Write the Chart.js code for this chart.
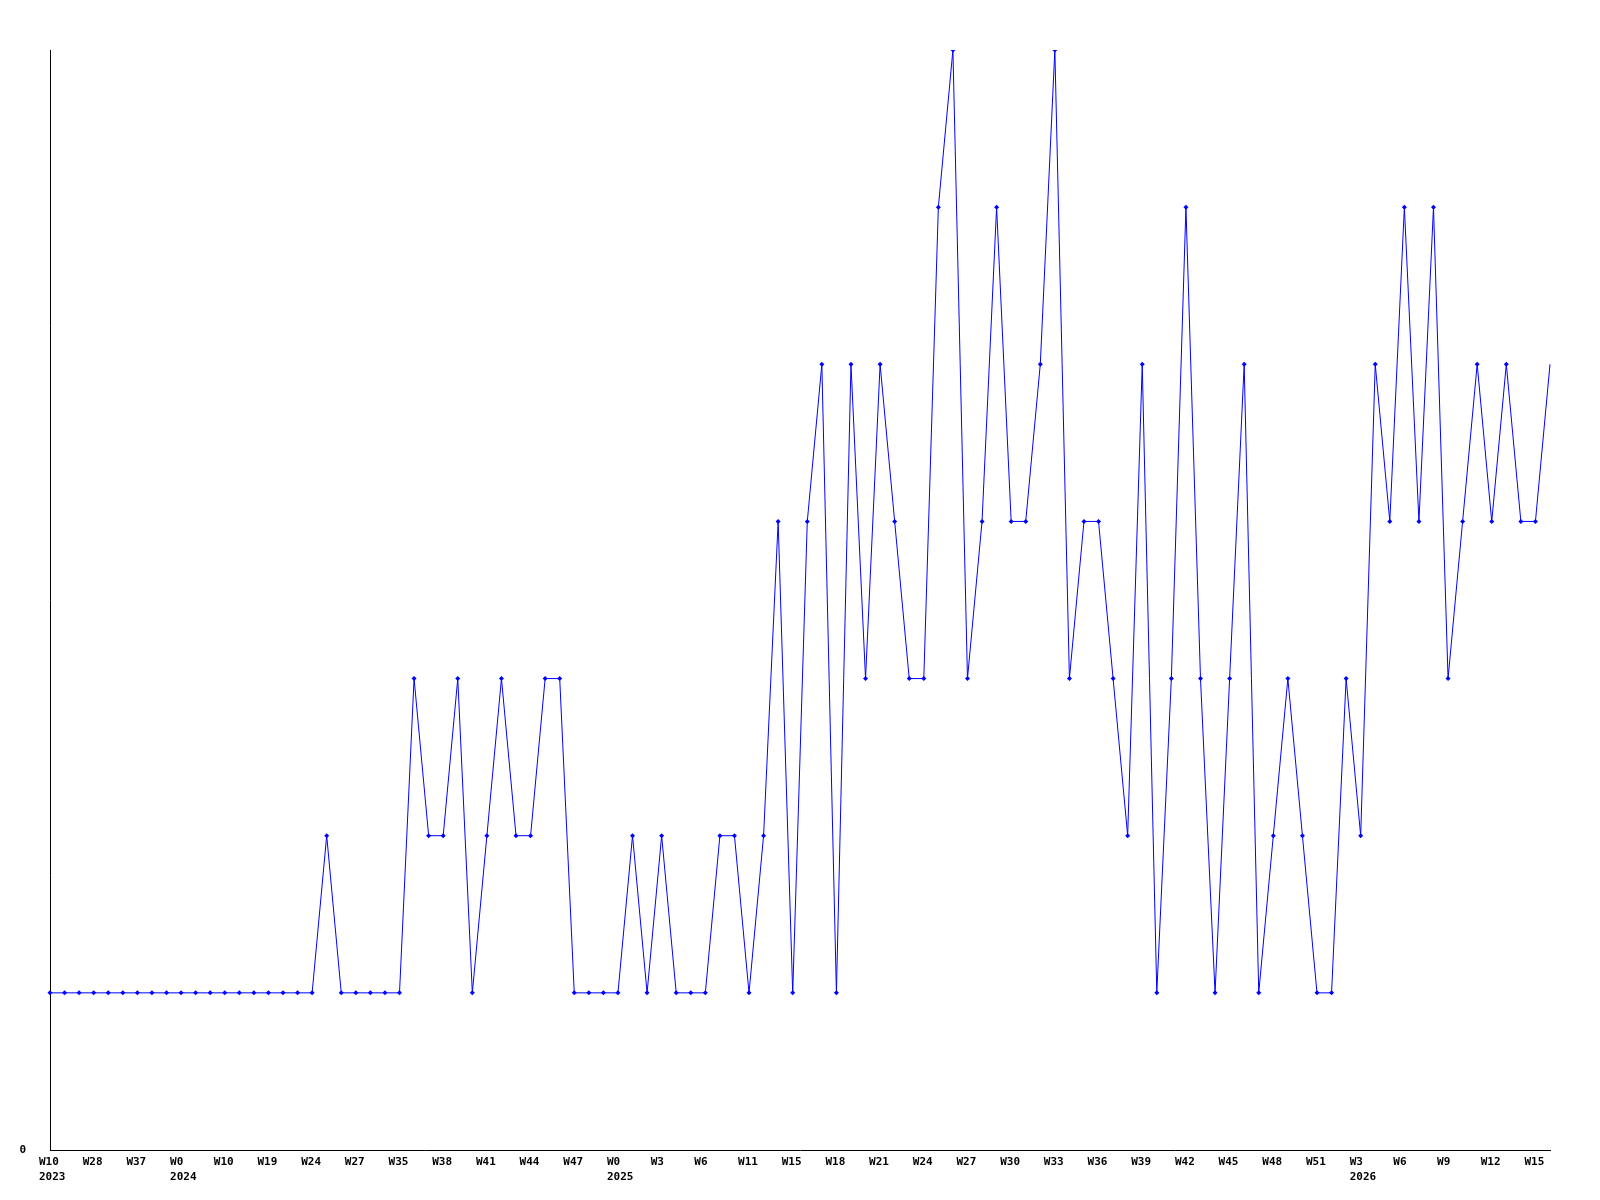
<!DOCTYPE html>
<html>
<head>
<meta charset="utf-8">
<script src="https://cdn.jsdelivr.net/npm/chart.js@4"></script>
<style>
  body { margin: 0; background: #fff; }
</style>
</head>
<body>
<canvas id="chart-weekly" width="1600" height="1200"></canvas>
<script>
// weekly values, one per week
var values = [
  1, 1, 1, 1, 1, 1, 1, 1, 1, 1, 1, 1, 1, 1, 1, 1, 1, 1, 1, 2,
  1, 1, 1, 1, 1, 3, 2, 2, 3, 1, 2, 3, 2, 2, 3, 3, 1, 1, 1, 1,
  2, 1, 2, 1, 1, 1, 2, 2, 1, 2, 4, 1, 4, 5, 1, 5, 3, 5, 4, 3,
  3, 6, 7, 3, 4, 6, 4, 4, 5, 7, 3, 4, 4, 3, 2, 5, 1, 3, 6, 3,
  1, 3, 5, 1, 2, 3, 2, 1, 1, 3, 2, 5, 4, 6, 4, 6, 3, 4, 5, 4,
  5, 4, 4, 5
];

// labels shown on every third week
var weekTicks = [
  'W10', 'W28', 'W37', 'W0', 'W10', 'W19', 'W24', 'W27', 'W35', 'W38',
  'W41', 'W44', 'W47', 'W0', 'W3', 'W6', 'W11', 'W15', 'W18', 'W21',
  'W24', 'W27', 'W30', 'W33', 'W36', 'W39', 'W42', 'W45', 'W48', 'W51',
  'W3', 'W6', 'W9', 'W12', 'W15'
];
var yearIndex = [0, 9, 39, 90];
var yearNames = ['2023', '2024', '2025', '2026'];

var categories = values.map(function (v, i) { return i; });

var tickFont = { family: '"DejaVu Sans Mono", monospace', size: 11, weight: 'bold', lineHeight: 1.35 };

var config = {
  type: 'line',
  data: {
    labels: categories,
    datasets: [{
      data: values,
      borderColor: '#0000ff',
      backgroundColor: '#0000ff',
      borderWidth: 1,
      tension: 0,
      pointStyle: 'rectRot',
      pointRadius: function (ctx) { return ctx.dataIndex === values.length - 1 ? 0 : 2.5; },
      pointBorderWidth: 0,
      fill: false
    }]
  },
  options: {
    responsive: false,
    animation: false,
    layout: { padding: { top: 50, right: 50, left: 0, bottom: 0 } },
    plugins: { legend: { display: false }, tooltip: { enabled: false } },
    scales: {
      x: {
        type: 'category',
        offset: false,
        grid: { display: false, drawTicks: false },
        border: { display: true, color: '#000', width: 1 },
        afterFit: function (axis) { axis.height = 50; },
        ticks: {
          autoSkip: false,
          maxRotation: 0,
          minRotation: 0,
          align: 'start',
          labelOffset: -11,
          padding: 5,
          color: '#000',
          font: tickFont,
          callback: function (value, index) {
            if (index % 3 !== 0) return '';
            var w = weekTicks[index / 3];
            var y = yearIndex.indexOf(index);
            return y >= 0 ? [w, yearNames[y]] : w;
          }
        }
      },
      y: {
        min: 0,
        max: 7,
        grid: { display: false, drawTicks: false },
        border: { display: true, color: '#000', width: 1 },
        afterFit: function (axis) { axis.width = 50; },
        ticks: {
          stepSize: 1,
          padding: 24,
          color: '#000',
          font: tickFont,
          callback: function (value) { return value === 0 ? '0' : ''; }
        }
      }
    }
  }
};

window.onload = function () {
  var ctx = document.getElementById('chart-weekly').getContext('2d');
  window.weeklyChart = new Chart(ctx, config);
};
</script>
</body>
</html>
